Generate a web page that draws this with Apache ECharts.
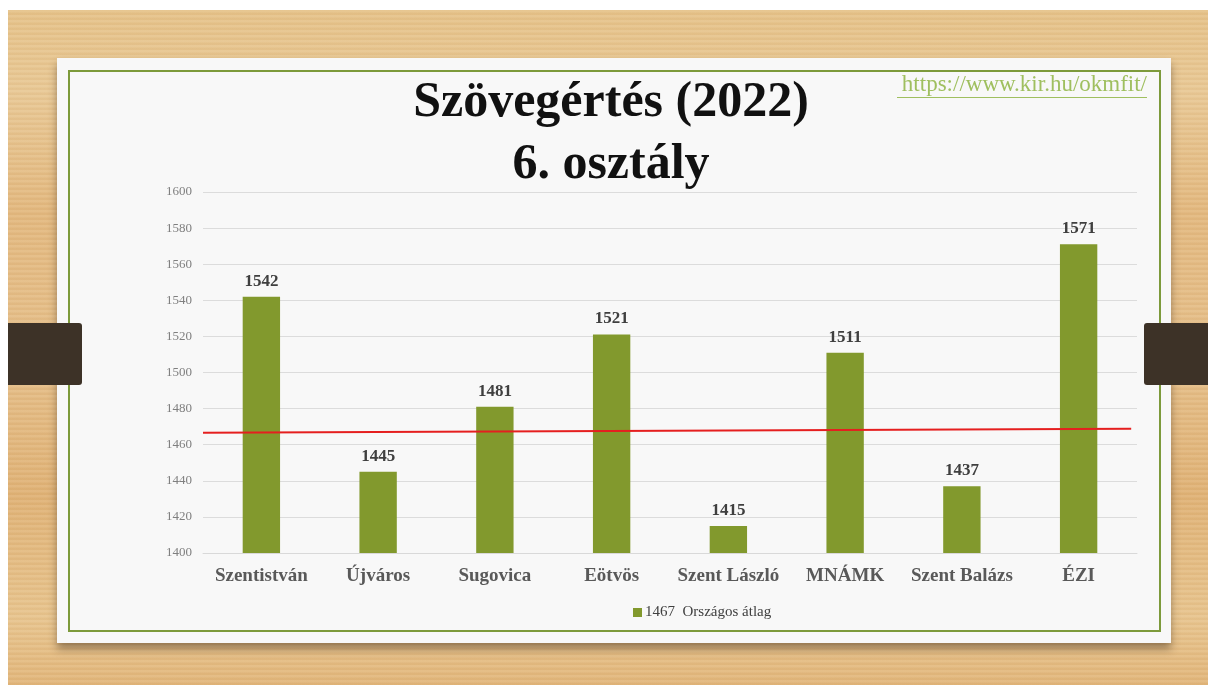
<!DOCTYPE html>
<html>
<head>
<meta charset="utf-8">
<script src="https://cdn.jsdelivr.net/npm/echarts@6/dist/echarts.min.js"></script>
<style>
  html, body { margin: 0; padding: 0; width: 1208px; height: 685px; overflow: hidden; background: #fff; }
  #wood {
    position: absolute; left: 8px; top: 10px; width: 1200px; height: 675px;
    background:
      repeating-linear-gradient(180deg, rgba(255,255,255,0.06) 0px, rgba(255,255,255,0.06) 2px, rgba(150,90,30,0.05) 3px, rgba(150,90,30,0.05) 5px),
      linear-gradient(180deg, #e6c38a 0%, #e9c996 12%, #e3b980 30%, #e6c08b 50%, #e0b377 72%, #e8c58f 90%, #e2b77c 100%);
  }
  #card {
    position: absolute; left: 57px; top: 58px; width: 1114px; height: 585px;
    background: #f8f8f8;
    box-shadow: 0 6px 8px rgba(60,40,20,0.45);
  }
  #frame {
    position: absolute; left: 68px; top: 70px; width: 1089px; height: 558px;
    border: 2px solid #7d9a3b;
  }
  .tab { position: absolute; top: 323px; height: 62px; background: #3d3227; }
  #tabL { left: 8px; width: 74px; border-radius: 0 3px 3px 0; }
  #tabR { left: 1144px; width: 64px; border-radius: 3px 0 0 3px; }
  #main { position: absolute; left: 0; top: 0; width: 1208px; height: 685px; }
</style>
</head>
<body>
<div id="wood"></div>
<div id="card"></div>
<div id="frame"></div>
<div class="tab" id="tabL"></div>
<div class="tab" id="tabR"></div>
<div id="main"></div>
<script>
// iskolák
const categories = ['Szentistván', 'Újváros', 'Sugovica', 'Eötvös', 'Szent László', 'MNÁMK', 'Szent Balázs', 'ÉZI'];
const scores = [1542, 1445, 1481, 1521, 1415, 1511, 1437, 1571];
const yTicks = [1400, 1600, 20];   // min, max, interval
// országos átlag vonal (kézzel húzott, enyhén ferde)
const avgLine = [[0, 1466.6], [7.95, 1468.8]];
const seriesName = '1467  Országos átlag';

const serif = '"Liberation Serif", "DejaVu Serif", serif';

let myChart = echarts.init(document.getElementById('main'));
let option = {
    backgroundColor: 'transparent',
    animation: false,
    title: [{
        text: 'Szövegértés (2022)\n6. osztály',
        left: 606,
        top: 67,
        textAlign: 'center',
        textStyle: { fontFamily: serif, fontWeight: 'bold', fontSize: 50, lineHeight: 62, color: '#111' }
    }],
    graphic: [
        {
            type: 'text', right: 61, top: 73,
            style: { text: 'https://www.kir.hu/okmfit/', font: '23px ' + serif, fill: '#9fbf5f' }
        },
        {
            type: 'rect', left: 897, top: 97,
            shape: { width: 250, height: 1 },
            style: { fill: '#9fbf5f' }
        }
    ],
    legend: {
        data: [seriesName],
        left: 628,
        top: 600,
        itemWidth: 9,
        itemHeight: 9,
        itemGap: 3,
        icon: 'rect',
        textStyle: { fontFamily: serif, fontSize: 15, color: '#404040', padding: [0, 0, 0, -2] }
    },
    grid: { left: 203, right: 71, top: 192, bottom: 132 },
    xAxis: [{
        type: 'category',
        data: categories,
        axisTick: { show: false },
        axisLine: { lineStyle: { color: '#d9d9d9' } },
        axisLabel: { interval: 0, margin: 14, fontFamily: serif, fontWeight: 'bold', fontSize: 19, color: '#595959' }
    }, {
        type: 'value', min: 0, max: 8, show: false
    }],
    yAxis: {
        type: 'value',
        min: yTicks[0],
        max: yTicks[1],
        interval: yTicks[2],
        axisLine: { show: false },
        axisTick: { show: false },
        splitLine: { lineStyle: { color: '#dcdcdc' } },
        axisLabel: {
            margin: 11, fontFamily: serif, fontSize: 13, color: '#7f7f7f',
            formatter: function (v) { return String(v); }
        }
    },
    series: [{
        name: seriesName,
        type: 'bar',
        data: scores,
        barWidth: '32%',
        itemStyle: { color: '#82992d' },
        label: {
            show: true, position: 'top', distance: 7,
            fontFamily: serif, fontWeight: 'bold', fontSize: 17, color: '#3f3f3f'
        }
    }, {
        name: 'átlag',
        type: 'line',
        xAxisIndex: 1,
        data: avgLine,
        symbol: 'none',
        lineStyle: { color: '#e51f1f', width: 2 },
        z: 5
    }]
};
myChart.setOption(option);
</script>
</body>
</html>
